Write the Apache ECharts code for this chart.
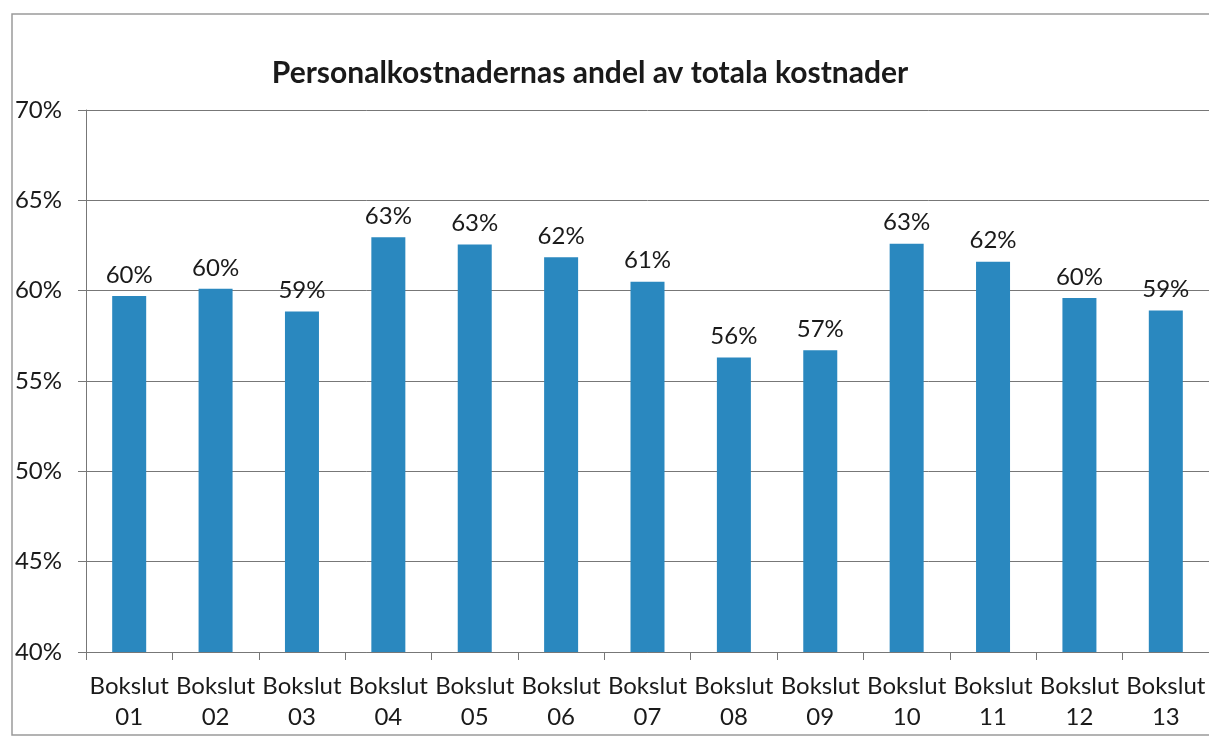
<!DOCTYPE html>
<html>
<head>
<meta charset="utf-8">
<script src="https://cdn.jsdelivr.net/npm/echarts@6/dist/echarts.min.js"></script>
<style>html,body{margin:0;padding:0;background:#fff}#c{width:1209px;height:738px}</style>
</head>
<body>
<div id="c"></div>
<script>
const title = 'Personalkostnadernas andel av totala kostnader';
const categories = ['Bokslut\n01','Bokslut\n02','Bokslut\n03','Bokslut\n04','Bokslut\n05','Bokslut\n06','Bokslut\n07','Bokslut\n08','Bokslut\n09','Bokslut\n10','Bokslut\n11','Bokslut\n12','Bokslut\n13'];
const values = [59.7, 60.1, 58.85, 62.95, 62.55, 61.85, 60.5, 56.3, 56.7, 62.6, 61.6, 59.6, 58.9];
const yMin = 40, yMax = 70, yStep = 5;

const chart = echarts.init(document.getElementById('c'));
const font = 'Lato, "Open Sans", sans-serif';
chart.setOption({
  animation: false,
  backgroundColor: '#fff',
  title: {
    text: title, left: 585, top: 53, textAlign: 'center',
    textStyle: {fontFamily: font, fontWeight: 'bold', fontSize: 30, color: '#1a1a1a'}
  },
  graphic: [{
    type: 'polyline', silent: true,
    shape: {points: [[1209, 14], [12, 14], [12, 735], [1209, 735]]},
    style: {stroke: '#9a9a9a', lineWidth: 1.5, fill: null}
  }],
  grid: {left: 86, right: 0, top: 110, bottom: 86, containLabel: false},
  xAxis: {
    type: 'category', data: categories,
    axisLine: {show: true, lineStyle: {color: '#777', width: 1}},
    axisTick: {show: true, length: 8, lineStyle: {color: '#777'}},
    axisLabel: {fontFamily: font, fontSize: 24, color: '#1a1a1a', margin: 19, lineHeight: 31, interval: 0}
  },
  yAxis: {
    type: 'value', min: yMin, max: yMax, interval: yStep,
    axisLine: {show: true, lineStyle: {color: '#777', width: 1}},
    axisTick: {show: true, length: 8, lineStyle: {color: '#777'}},
    splitLine: {show: true, lineStyle: {color: '#777', width: 1}},
    axisLabel: {fontFamily: font, fontSize: 24, color: '#1a1a1a', margin: 24, formatter: v => v + '%'}
  },
  series: [{
    type: 'bar', data: values, barWidth: 34,
    itemStyle: {color: '#2a88bf'},
    label: {
      show: true, position: 'top', distance: 9,
      fontFamily: font, fontSize: 24, color: '#1a1a1a',
      formatter: p => Math.round(p.value) + '%'
    }
  }]
});
</script>
</body>
</html>
